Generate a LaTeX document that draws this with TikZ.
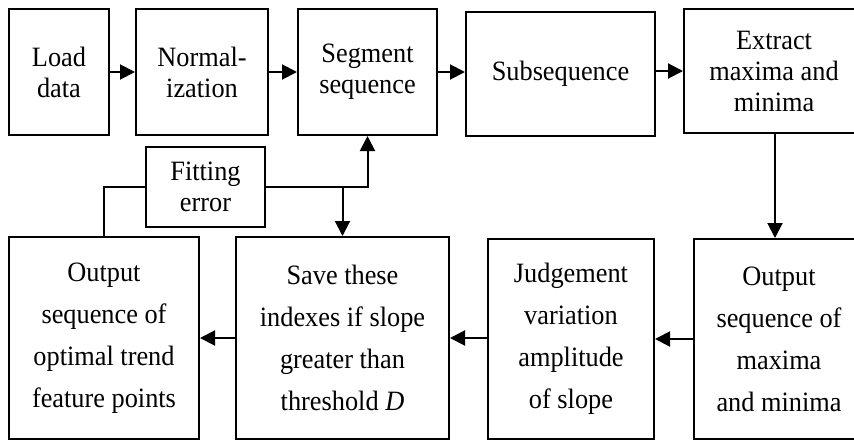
\documentclass[tikz,border=0pt]{standalone}
\usepackage{fontspec}
\setmainfont[FakeStretch=0.94]{Liberation Serif}
\usetikzlibrary{arrows.meta}
\tikzset{
  box/.style={draw,line width=2pt,rectangle,inner sep=0pt,align=center,
    font=\fontsize{28}{31}\selectfont},
  tallbox/.style={box,font=\fontsize{28}{42}\selectfont},
  conn/.style={line width=2pt},
  arr/.style={conn,-{Triangle[length=15pt,width=15pt]}},
}
\begin{document}
\begin{tikzpicture}[x=1pt,y=-1pt]
\useasboundingbox (0,0) rectangle (854,440);
\begin{scope}
\clip (0,0) rectangle (854,440);
\node[box,minimum width=100pt,minimum height=126pt] (load) at (59,72) {Load\\data};
\node[box,minimum width=132pt,minimum height=126pt] (norm) at (202,72) {Normal-\\ization};
\node[box,minimum width=139pt,minimum height=126pt] (seg) at (367.5,72) {Segment\\sequence};
\node[box,minimum width=189pt,minimum height=124pt] (sub) at (560.5,74) {Subsequence};
\node[box,minimum width=180pt,minimum height=124pt] (ext) at (774,71) {Extract\\maxima and\\minima};
\node[box,minimum width=119pt,minimum height=80pt] (fit) at (205.5,187) {Fitting\\error};
\node[tallbox,minimum width=190pt,minimum height=202pt] (outopt) at (104,338) {Output\\sequence of\\optimal trend\\feature points};
\node[tallbox,minimum width=213pt,minimum height=202pt] (save) at (342.5,338) {Save these\\indexes if slope\\greater than\\threshold \textit{D}};
\node[tallbox,minimum width=166pt,minimum height=200pt] (judge) at (571,339) {Judgement\\variation\\amplitude\\of slope};
\node[tallbox,minimum width=170pt,minimum height=200pt] (outmax) at (779,339) {Output\\sequence of\\maxima\\and minima};
\end{scope}
\coordinate (dx) at (775,0);
\draw[arr] (load.east) -- (norm.west);
\draw[arr] (norm.east) -- (seg.west);
\draw[arr] (seg.east) -- (seg.east -| sub.west);
\draw[arr] (sub.east |- ext.west) -- (ext.west);
\draw[arr] (ext.south -| dx) -- (outmax.north -| dx);
\draw[arr] (outmax.west |- judge.east) -- (judge.east);
\draw[arr] (judge.west |- save.east) -- (save.east);
\draw[arr] (save.west) -- (outopt.east);
\draw[arr] (fit.east) -| (seg.south);
\draw[arr] (fit.east -| save.north) -- (save.north);
\draw[conn] (fit.west) -| (outopt.north);
\end{tikzpicture}
\end{document}
